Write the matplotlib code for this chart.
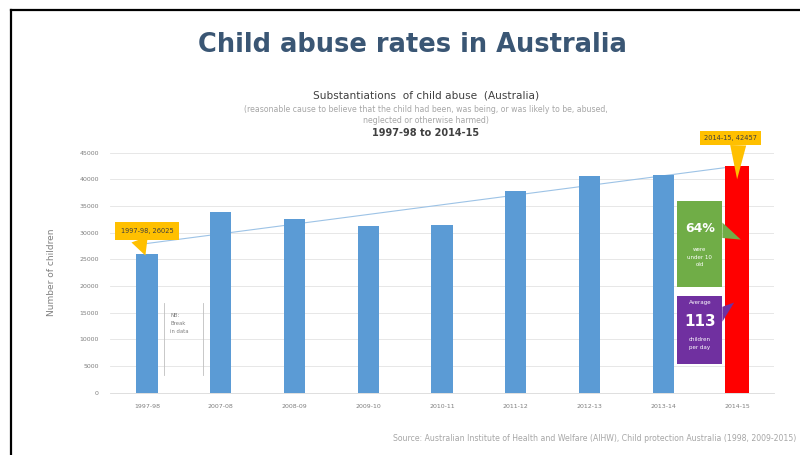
import numpy as np
import matplotlib.pyplot as plt
from matplotlib.patches import Rectangle, Polygon
from matplotlib.lines import Line2D

# data
years = ['1997-98', '2007-08', '2008-09', '2009-10', '2010-11',
         '2011-12', '2012-13', '2013-14', '2014-15']
subst = [26025, 33900, 32641, 31295, 31527, 37781, 40571, 40844, 42457]
yticks = list(range(0, 45001, 5000))

blue = '#5B9BD5'
red = '#FF0000'
yellow = '#FFC000'
green = '#70AD47'
purple = '#7030A0'
grey = '#7F7F7F'

plt.rcParams['font.family'] = ['DejaVu Sans']

fig = plt.figure(figsize=(8, 4.55), dpi=100)
ax = fig.add_axes([0.1375, 0.137, 0.83, 0.5275])

x = np.arange(len(years))
cols = [blue] * (len(years) - 1) + [red]
widths = [0.29] * (len(years) - 1) + [0.32]
ax.bar(x, subst, width=widths, color=cols, zorder=3)

# linear trendline
k, b = np.polyfit(x, subst, 1)
ax.plot([x[0], x[-1]], [k * x[0] + b, k * x[-1] + b], color='#9DC3E6', lw=0.8, zorder=2)

ax.set_xlim(-0.5, len(years) - 0.5)
ax.set_ylim(0, 45000)
ax.set_yticks(yticks)
ax.set_yticklabels([str(t) for t in yticks], fontsize=4.5, color=grey)
ax.set_xticks(x)
ax.set_xticklabels(years, fontsize=4.5, color=grey)
ax.tick_params(length=0, pad=8)
ax.grid(axis='y', color='#E3E3E3', lw=0.6, zorder=0)
for s in ['top', 'right', 'left']:
    ax.spines[s].set_visible(False)
ax.spines['bottom'].set_color('#D9D9D9')
ax.spines['bottom'].set_linewidth(0.6)
ax.set_ylabel('Number of children', fontsize=6.5, color=grey, labelpad=17)

# yellow callouts
ax.annotate('1997-98, 26025', xy=(-0.02, 25700), xytext=(0, 30400),
            fontsize=4.8, color='#404040', ha='center', va='center',
            bbox=dict(boxstyle='square,pad=0.9', fc=yellow, ec='none'),
            arrowprops=dict(arrowstyle='wedge,tail_width=2.6', fc=yellow, ec='none',
                            relpos=(0.3, 0.5), shrinkA=0, shrinkB=0),
            zorder=5)
ax.annotate('2014-15, 42457', xy=(8.0, 40000), xytext=(7.91, 47700),
            fontsize=4.8, color='#404040', ha='center', va='center',
            bbox=dict(boxstyle='square,pad=0.6', fc=yellow, ec='none'),
            arrowprops=dict(arrowstyle='wedge,tail_width=2.4', fc=yellow, ec='none',
                            relpos=(0.65, 0.5), shrinkA=0, shrinkB=0),
            annotation_clip=False, zorder=5)

# green box
ax.add_patch(Rectangle((7.19, 19870), 0.61, 15980, fc=green, ec='none', zorder=4))
ax.add_patch(Polygon([[7.80, 31900], [7.80, 29000], [8.05, 28700]],
                     closed=True, fc=green, ec='none', zorder=4))
ax.text(7.495, 30700, '64%', color='white', fontsize=9, fontweight='bold',
        ha='center', va='center', zorder=6)
ax.text(7.495, 25400, 'were\nunder 10\nold', color='white', fontsize=4,
        ha='center', va='center', linespacing=1.6, zorder=6)

# purple box
ax.add_patch(Rectangle((7.19, 5400), 0.61, 12780, fc=purple, ec='none', zorder=4))
ax.add_patch(Polygon([[7.80, 16100], [7.80, 13300], [7.96, 16900]],
                     closed=True, fc=purple, ec='none', zorder=4))
ax.text(7.495, 16900, 'Average', color='white', fontsize=4, ha='center', va='center', zorder=6)
ax.text(7.495, 13400, '113', color='white', fontsize=11, fontweight='bold',
        ha='center', va='center', zorder=6)
ax.text(7.495, 9200, 'children\nper day', color='white', fontsize=4,
        ha='center', va='center', linespacing=1.6, zorder=6)

# break in data bracket
for xb in [0.23, 0.76]:
    ax.plot([xb, xb], [3300, 16800], color='#BFBFBF', lw=0.6, zorder=2)
ax.text(0.32, 13000, 'NB:\nBreak\nin data', fontsize=3.8, color=grey,
        ha='left', va='center', linespacing=1.7, zorder=6)

# titles
fig.text(0.515, 0.901, 'Child abuse rates in Australia', fontsize=18.5, fontweight='bold',
         color='#3A5674', ha='center', va='center')
fig.text(0.532, 0.791, 'Substantiations  of child abuse  (Australia)', fontsize=7.6,
         color='#404040', ha='center', va='center')
fig.text(0.532, 0.760, '(reasonable cause to believe that the child had been, was being, '
         'or was likely to be, abused,', fontsize=5.6, color='#A6A6A6', ha='center', va='center')
fig.text(0.532, 0.736, 'neglected or otherwise harmed)', fontsize=5.6, color='#A6A6A6',
         ha='center', va='center')
fig.text(0.532, 0.708, '1997-98 to 2014-15', fontsize=7, fontweight='bold', color='#404040',
         ha='center', va='center')

fig.text(0.995, 0.037, 'Source: Australian Institute of Health and Welfare (AIHW), '
         'Child protection Australia (1998, 2009-2015)', fontsize=5.6, color='#A6A6A6',
         ha='right', va='center')

# slide border (top and left edges)
fig.add_artist(Line2D([0.01375, 0.01375], [0, 0.978], color='black', lw=1.6,
                      transform=fig.transFigure))
fig.add_artist(Line2D([0.01375, 1], [0.978, 0.978], color='black', lw=1.6,
                      transform=fig.transFigure))

fig.savefig('out.png', dpi=100)
